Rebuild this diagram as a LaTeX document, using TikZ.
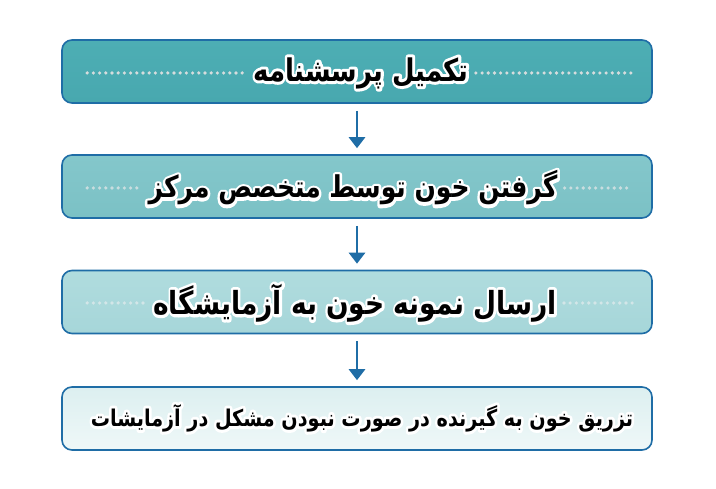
\documentclass[tikz,border=0pt]{standalone}
\usepackage{fontspec}
\TeXXeTstate=1
\newfontfamily\fa[Script=Arabic]{DejaVu Sans}
\usetikzlibrary{arrows.meta}
\definecolor{edge}{HTML}{1F6DA6}
\definecolor{fillA}{HTML}{4DAEB4}
\definecolor{fillAb}{HTML}{48A8AF}
\definecolor{fillB}{HTML}{84C7CB}
\definecolor{fillBb}{HTML}{7BC1C5}
\definecolor{fillC}{HTML}{B0DCDE}
\definecolor{fillCb}{HTML}{A6D6D9}
\definecolor{fillD}{HTML}{DCEFF0}
\definecolor{fillDb}{HTML}{EFF8F8}
\definecolor{dotA}{HTML}{D6DCDD}
\definecolor{dotB}{HTML}{C9DDDF}
\definecolor{dotC}{HTML}{D3E6E8}
\newcommand\halotext[1]{\special{pdf:code q 1 1 1 RG 5 w 1 j 1 J 1 Tr}#1\special{pdf:code 0 Tr Q}}
\begin{document}
\begin{tikzpicture}[x=1pt,y=-1pt,
  box/.style={draw=edge, line width=1.6pt, rounded corners=10pt,
    minimum width=590pt, minimum height=63pt, inner sep=0pt},
  label/.style={font=\fa\bfseries\fontsize{#1}{#1}\selectfont, text=black, inner sep=0pt},
  dots/.style={draw=#1, line width=3.6pt, line cap=round, dash pattern=on 0pt off 6.2pt},
  flow/.style={draw=edge, line width=2.8pt, -{Triangle[width=16pt,length=11pt]}}]
\useasboundingbox[fill=white] (0,0) rectangle (716,489);

\node[box, top color=fillA, bottom color=fillAb] (b1) at (357,71.5) {};
\node[box, top color=fillB, bottom color=fillBb] (b2) at (357,186.5) {};
\node[box, top color=fillC, bottom color=fillCb] (b3) at (357,302) {};
\node[box, top color=fillD, bottom color=fillDb] (b4) at (357,418.5) {};

\node[label=26] (h1) at (361,73) {\halotext{\scalebox{1}[1.2]{\beginR تکمیل پرسشنامه\endR}}};
\node[label=25] (h2) at (353,188) {\halotext{\scalebox{1}[1.2]{\beginR گرفتن خون توسط متخصص مرکز\endR}}};
\node[label=26.5] (h3) at (355,303) {\halotext{\scalebox{1}[1.2]{\beginR ارسال نمونه خون به آزمایشگاه\endR}}};
\node[label=19.2] (h4) at (362,418) {\halotext{\scalebox{1}[1.2]{\beginR تزریق خون به گیرنده در صورت نبودن مشکل در آزمایشات\endR}}};

\node[label=26] (t1) at (h1.center) {\scalebox{1}[1.2]{\beginR تکمیل پرسشنامه\endR}};
\node[label=25] (t2) at (h2.center) {\scalebox{1}[1.2]{\beginR گرفتن خون توسط متخصص مرکز\endR}};
\node[label=26.5] (t3) at (h3.center) {\scalebox{1}[1.2]{\beginR ارسال نمونه خون به آزمایشگاه\endR}};
\node[label=19.2] (t4) at (h4.center) {\scalebox{1}[1.2]{\beginR تزریق خون به گیرنده در صورت نبودن مشکل در آزمایشات\endR}};

\draw[dots=dotA] ([xshift=26pt]b1.west |- t1.center) -- ([xshift=-7pt]t1.west);
\draw[dots=dotA] ([xshift=7pt]t1.east) -- ([xshift=-20pt]b1.east |- t1.center);
\draw[dots=dotB] ([xshift=26pt]b2.west |- t2.center) -- ([xshift=-7pt]t2.west);
\draw[dots=dotB] ([xshift=7pt]t2.east) -- ([xshift=-20pt]b2.east |- t2.center);
\draw[dots=dotC] ([xshift=26pt]b3.west |- t3.center) -- ([xshift=-7pt]t3.west);
\draw[dots=dotC] ([xshift=7pt]t3.east) -- ([xshift=-20pt]b3.east |- t3.center);

\draw[flow] ([yshift=-7pt]b1.south) -- ([yshift=6pt]b2.north);
\draw[flow] ([yshift=-7pt]b2.south) -- ([yshift=6pt]b3.north);
\draw[flow] ([yshift=-7pt]b3.south) -- ([yshift=6pt]b4.north);
\end{tikzpicture}
\end{document}
